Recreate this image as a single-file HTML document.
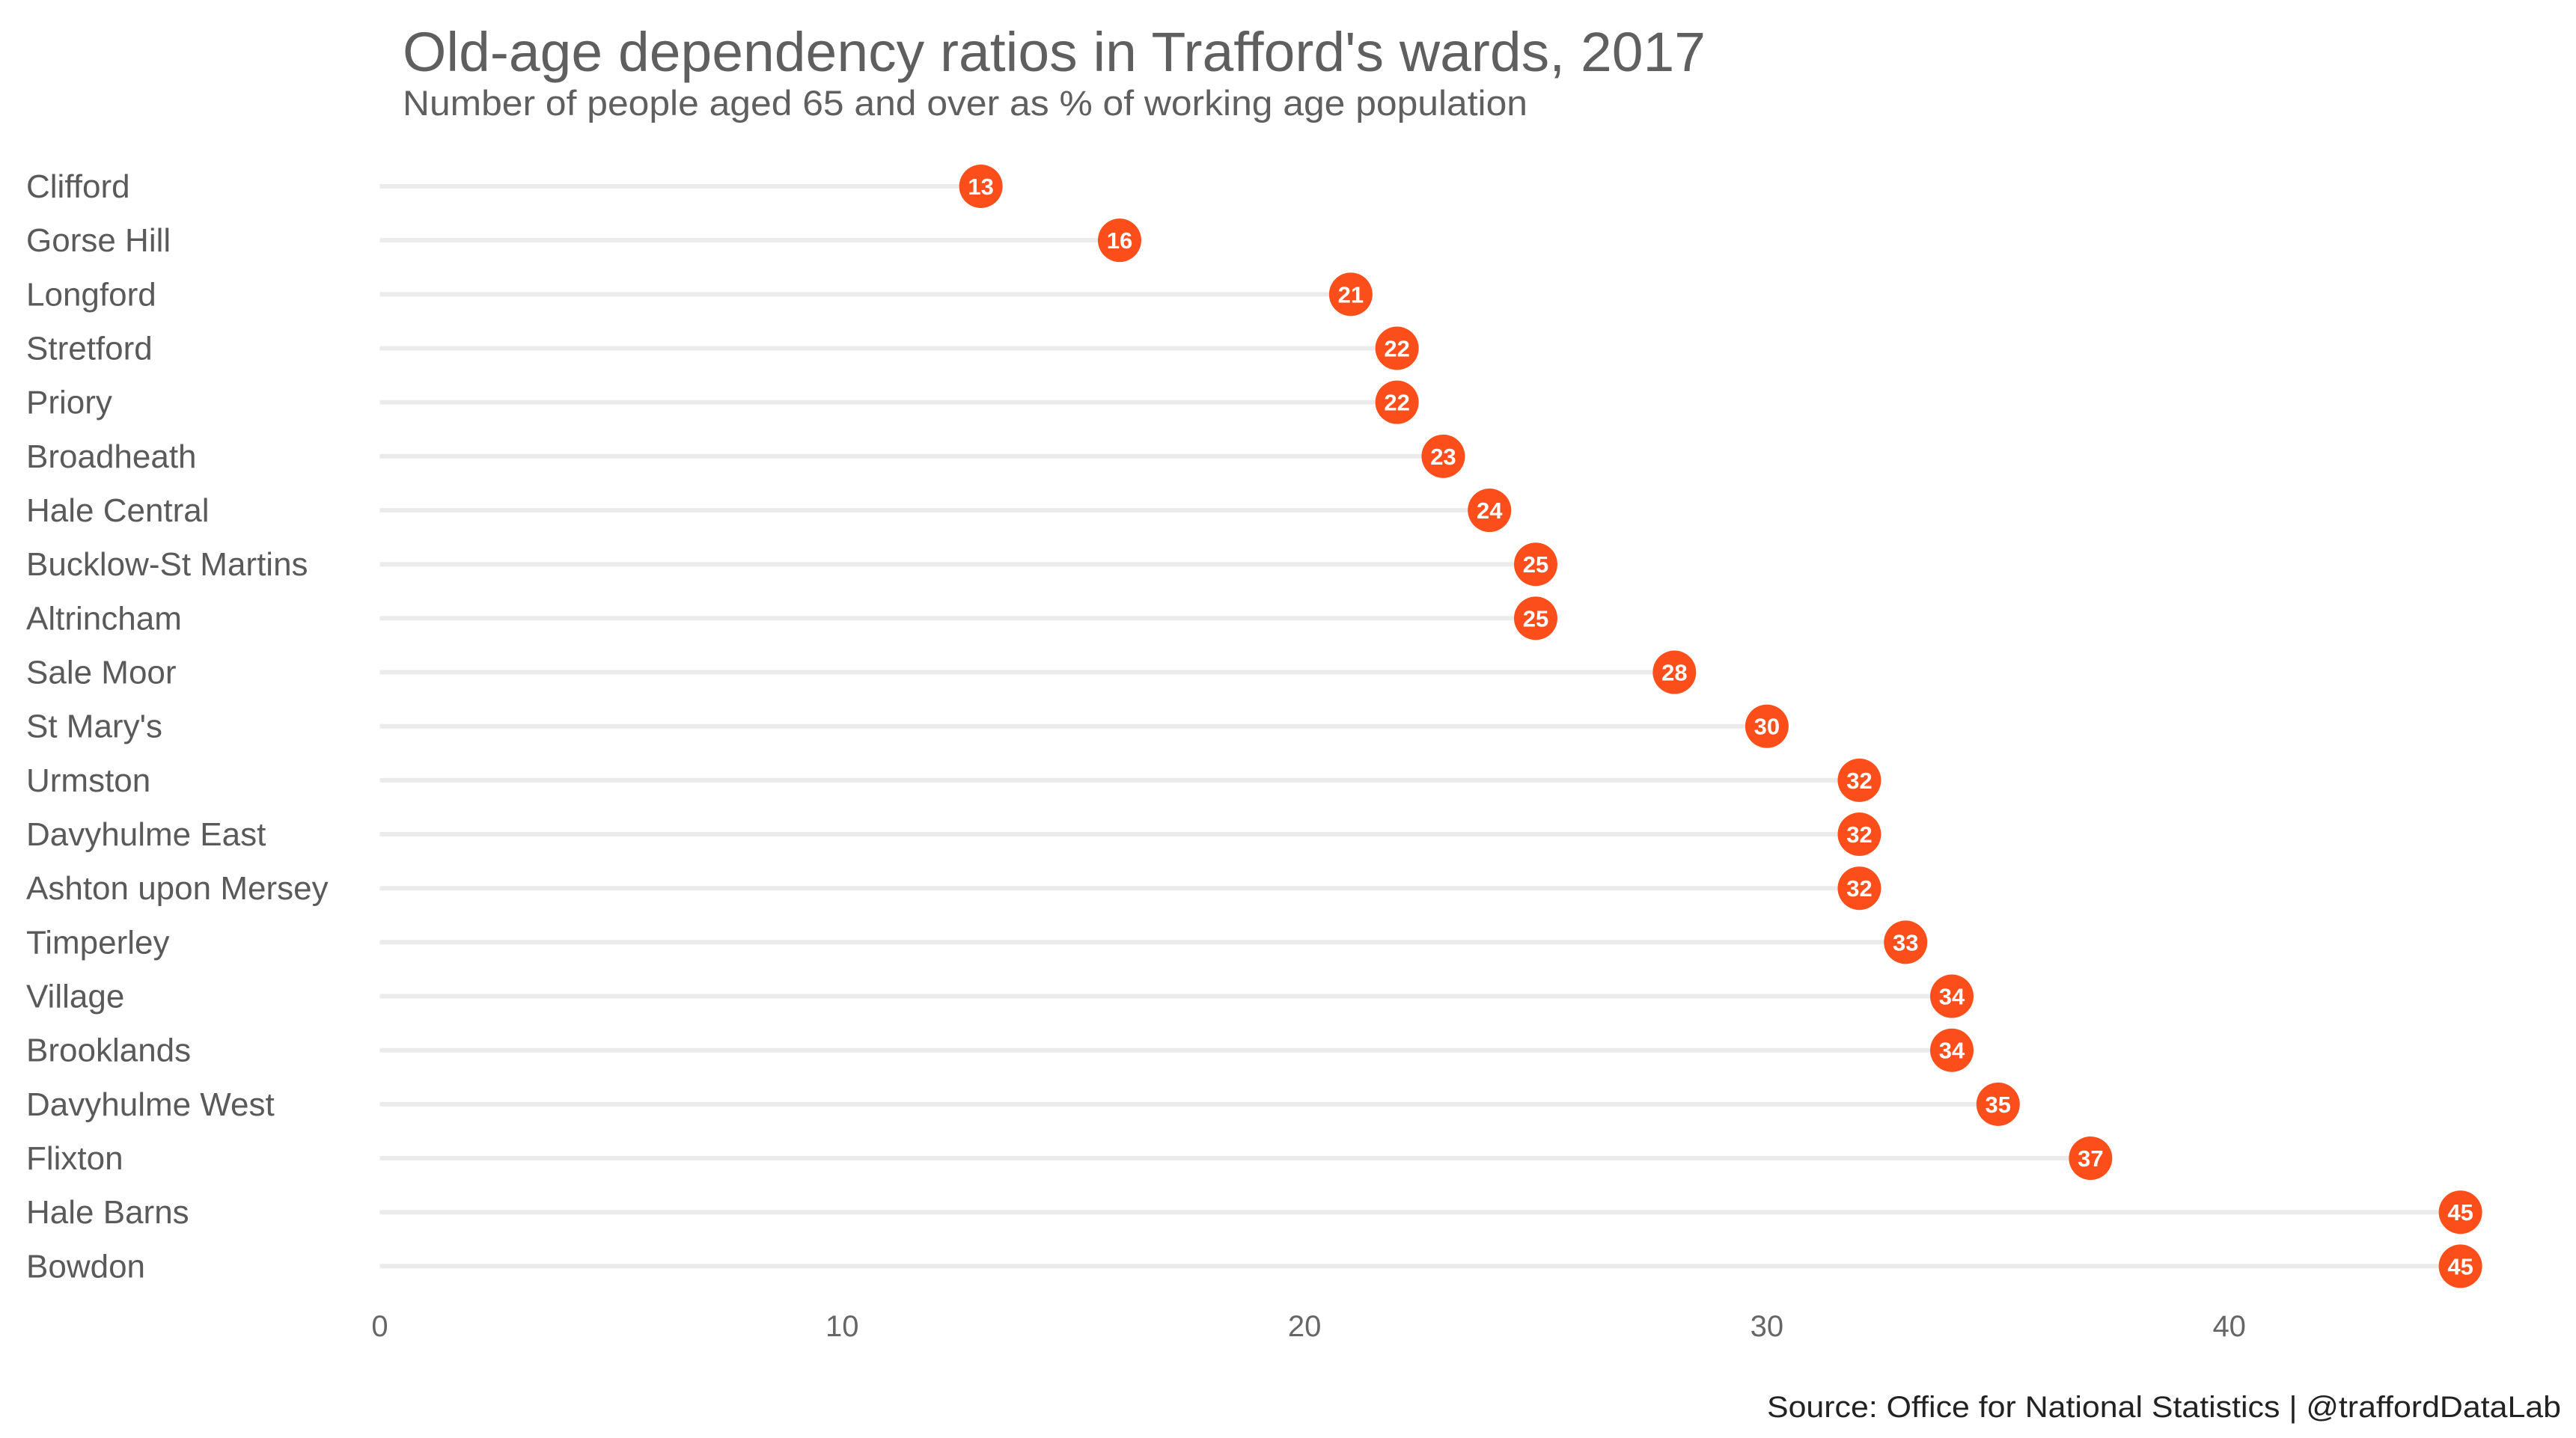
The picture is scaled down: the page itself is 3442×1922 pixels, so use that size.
<!DOCTYPE html>
<html><head><meta charset="utf-8"><style>
html,body{margin:0;padding:0;background:#fff;}
svg{display:block;font-family:"Liberation Sans",sans-serif;}
</style></head><body>
<svg id="chart" width="3442" height="1922" viewBox="0 0 3442 1922">
<text x="538" y="95" font-size="74" fill="#5f5f5f" textLength="1741" lengthAdjust="spacingAndGlyphs">Old-age dependency ratios in Trafford's wards, 2017</text>
<text x="538" y="154" font-size="47" fill="#5f5f5f" textLength="1503" lengthAdjust="spacingAndGlyphs">Number of people aged 65 and over as % of working age population</text>
<g id="plot"></g>
<text x="3422" y="1894" font-size="40" fill="#222" text-anchor="end" textLength="1061" lengthAdjust="spacingAndGlyphs">Source: Office for National Statistics  |  @traffordDataLab</text>
</svg>
<script>
const wards = ["Clifford","Gorse Hill","Longford","Stretford","Priory","Broadheath","Hale Central","Bucklow-St Martins","Altrincham","Sale Moor","St Mary's","Urmston","Davyhulme East","Ashton upon Mersey","Timperley","Village","Brooklands","Davyhulme West","Flixton","Hale Barns","Bowdon"];
const ratios = [13,16,21,22,22,23,24,25,25,28,30,32,32,32,33,34,34,35,37,45,45];
const xTicks = [0,10,20,30,40];

const NS = "http://www.w3.org/2000/svg";
const plot = document.getElementById('plot');
const x = v => 507.5 + v * 61.78;
const y = i => 249 + i * 72.17;
function mk(tag, attrs){const e=document.createElementNS(NS,tag);for(const k in attrs)e.setAttribute(k,attrs[k]);return e;}

xTicks.forEach(t=>{
  const e = mk('text',{x:x(t),y:1786,'font-size':40,fill:'#666','text-anchor':'middle'});
  
  
  e.textContent = t;
  plot.appendChild(e);
});

wards.forEach((w,i)=>{
  const lab = mk('text',{x:35,y:y(i)+15,'font-size':44,fill:'#5a5a5a'});
  
  
  lab.textContent = w;
  plot.appendChild(lab);

  const ln = mk('line',{x1:x(0),x2:x(ratios[i]),y1:y(i),y2:y(i),stroke:'#ebebeb','stroke-width':6});
  
  
  plot.appendChild(ln);

  const c = mk('circle',{cx:x(ratios[i]),cy:y(i),r:29,fill:'#fc4e1b'});
  
  
  plot.appendChild(c);

  const v = mk('text',{x:x(ratios[i]),y:y(i)+11,'font-size':31,'font-weight':'bold',fill:'#fff','text-anchor':'middle'});
  
  
  v.textContent = ratios[i];
  plot.appendChild(v);
});
</script>
</body></html>
